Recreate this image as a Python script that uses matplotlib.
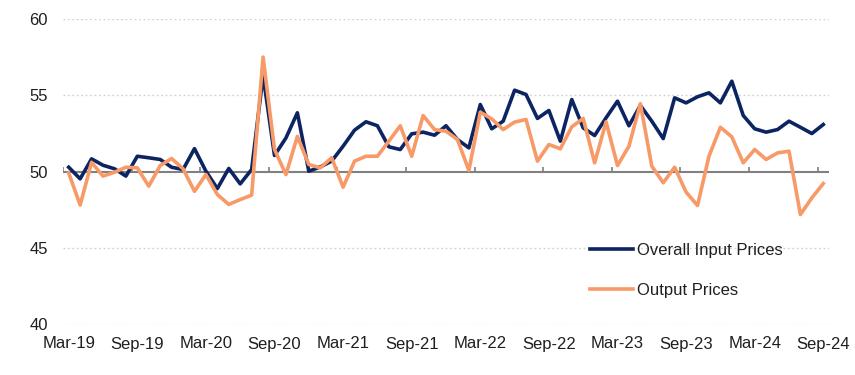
import numpy as np
import pandas as pd
import matplotlib
matplotlib.use("Agg")
import matplotlib.pyplot as plt

plt.rcParams['font.family'] = ['Liberation Sans', 'DejaVu Sans']

months = pd.date_range("2019-03-01", "2024-09-01", freq="MS")

input_prices = [
    50.28, 49.52, 50.83, 50.41, 50.18, 49.70, 51.00, 50.90, 50.79, 50.28,
    50.13, 51.50, 50.02, 48.88, 50.20, 49.19, 50.13, 56.30, 51.05, 52.20,
    53.85, 50.02, 50.30, 50.68, 51.66, 52.71, 53.26, 53.00, 51.62, 51.44,
    52.47, 52.58, 52.38, 53.00, 52.10, 51.55, 54.39, 52.80, 53.30, 55.33,
    55.05, 53.48, 54.00, 51.99, 54.72, 52.86, 52.36, 53.52, 54.61, 53.00,
    54.33, 53.30, 52.16, 54.83, 54.50, 54.90, 55.16, 54.50, 55.92, 53.67,
    52.80, 52.58, 52.75, 53.30, 52.90, 52.49, 53.08,
]

output_prices = [
    49.90, 47.80, 50.60, 49.70, 49.95, 50.28, 50.24, 49.04, 50.39, 50.85,
    50.18, 48.70, 49.80, 48.49, 47.84, 48.16, 48.45, 57.50, 51.44, 49.80,
    52.30, 50.46, 50.24, 50.90, 48.97, 50.68, 51.00, 51.00, 51.99, 53.00,
    51.00, 53.67, 52.75, 52.64, 52.10, 50.07, 53.89, 53.45, 52.75, 53.24,
    53.41, 50.68, 51.77, 51.49, 52.93, 53.48, 50.57, 53.26, 50.39, 51.66,
    54.45, 50.35, 49.26, 50.28, 48.65, 47.77, 51.00, 52.90, 52.27, 50.57,
    51.44, 50.79, 51.22, 51.33, 47.18, 48.27, 49.21,
]

navy = "#0C2461"
orange = "#F79A67"
text_col = "#1F1F1F"

x = np.arange(len(months))

fig = plt.figure(figsize=(8.55, 3.75), dpi=100)
ax = fig.add_axes([63 / 855, 1 - 324 / 375, (829 - 63) / 855, (324 - 19) / 375])

ax.plot(x, input_prices, color=navy, lw=2.6, label="Overall Input Prices", zorder=3)
ax.plot(x, output_prices, color=orange, lw=2.6, label="Output Prices", zorder=4)

ax.set_xlim(-0.5, len(months) - 0.5)
ax.set_ylim(40, 60)

# gridlines (dotted) and the solid 50 axis line
for v in [40, 45, 55, 60]:
    ax.axhline(v, color="#CFCFCF", lw=1, ls=(0, (1.2, 2)), zorder=1)
ax.axhline(50, color="#808080", lw=1.5, zorder=2)

label_pos = x[::6]
ax.vlines(label_pos - 0.5, 50, 50.3, color="#808080", lw=1.2, zorder=2)

ax.set_xticks(label_pos)
ax.set_xticklabels([m.strftime("%b-%y") for m in months[::6]])
ax.set_yticks([40, 45, 50, 55, 60])
ax.tick_params(axis="both", length=0, labelsize=12, colors=text_col)
ax.tick_params(axis="y", pad=11)
ax.tick_params(axis="x", pad=9)

for s in ax.spines.values():
    s.set_visible(False)

leg = fig.legend(loc="center left", bbox_to_anchor=(590 / 855, 1 - 270.3 / 375),
                 frameon=False, fontsize=12, handlelength=2.6, handletextpad=0.2,
                 labelspacing=1.5, borderpad=0, borderaxespad=0)
for t in leg.get_texts():
    t.set_color(text_col)

fig.savefig("out.png", dpi=100)
